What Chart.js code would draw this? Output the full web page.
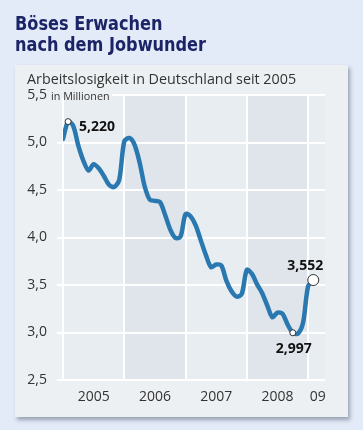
<!DOCTYPE html>
<html>
<head>
<meta charset="utf-8">
<script src="https://cdn.jsdelivr.net/npm/chart.js@4"></script>
<style>
  body { margin: 0; background: #e3ebf8; }
  canvas { display: block; }
</style>
</head>
<body>
<canvas id="jobChart" width="363" height="430"></canvas>
<script>
// Arbeitslose in Millionen, Jan 2005 bis Feb 2009
const arbeitslose = [
  5.037, 5.220, 5.176, 4.967, 4.807, 4.704, 4.772, 4.728, 4.647, 4.556, 4.531, 4.605,
  5.012, 5.048, 4.977, 4.790, 4.537, 4.398, 4.386, 4.372, 4.237, 4.084, 3.995, 4.008,
  4.247, 4.222, 4.124, 3.967, 3.812, 3.687, 3.715, 3.705, 3.543, 3.434, 3.378, 3.406,
  3.659, 3.617, 3.507, 3.414, 3.283, 3.160, 3.210, 3.196, 3.081, 2.997, 2.988, 3.102,
  3.489, 3.552
];
const jahresLabels = ['2005', '2006', '2007', '2008', '09'];
const jahresLabelPos = [6, 18, 30, 42, 49.9];
const jahresGrenzen = [0, 12, 24, 36, 48];
const yTicks = [2.5, 3.0, 3.5, 4.0, 4.5, 5.0, 5.5];
// markierte Punkte: Index im Array und Beschriftung
const markiert = [
  { i: 1, text: '5,220', r: 3 },
  { i: 45, text: '2,997', r: 3 },
  { i: 49, text: '3,552', r: 5.5 }
];

const FONT = '"Open Sans", "DejaVu Sans", sans-serif';
const TITLE_FONT = '"DejaVu Sans Condensed", "Liberation Sans Narrow", "Open Sans", sans-serif';
const fmt = v => v.toFixed(1).replace('.', ',');

const decor = {
  id: 'decor',
  beforeDraw(chart) {
    const { ctx, chartArea: a, scales } = chart;
    ctx.save();
    ctx.fillStyle = '#e3ebf8';
    ctx.fillRect(0, 0, chart.width, chart.height);

    // Panel mit Schatten
    ctx.shadowColor = 'rgba(60, 70, 90, 0.45)';
    ctx.shadowBlur = 4;
    ctx.shadowOffsetX = 2;
    ctx.shadowOffsetY = 3;
    ctx.fillStyle = '#ecf0f2';
    ctx.fillRect(15, 65, 333, 352);
    ctx.shadowColor = 'transparent';

    // Jahresspalten
    ctx.fillStyle = '#e8edf1';
    ctx.fillRect(a.left, a.top, a.right - a.left, a.bottom - a.top);
    ctx.fillStyle = '#dfe5ea';
    [[12, 24], [36, 48]].forEach(([s, e]) => {
      const x0 = scales.x.getPixelForValue(s);
      const x1 = scales.x.getPixelForValue(e);
      ctx.fillRect(x0, a.top, x1 - x0, a.bottom - a.top);
    });

    // Titel (etwas schmaler gezogen)
    ctx.save();
    ctx.translate(15, 0);
    ctx.scale(0.92, 1);
    ctx.fillStyle = '#1b2466';
    ctx.font = 'bold 19.5px ' + TITLE_FONT;
    ctx.textBaseline = 'alphabetic';
    ctx.fillText('Böses Erwachen', 0, 30);
    ctx.fillText('nach dem Jobwunder', 0, 51);
    ctx.restore();

    ctx.fillStyle = '#333';
    ctx.font = '14.3px ' + FONT;
    ctx.fillText('Arbeitslosigkeit in Deutschland seit 2005', 27, 84);
    ctx.restore();
  },
  afterDraw(chart) {
    const { ctx } = chart;
    const meta = chart.getDatasetMeta(0);
    ctx.save();
    // Einheit über der obersten Gitterlinie
    ctx.fillStyle = '#ecf0f2';
    ctx.fillRect(55, 92, 57, 6);
    ctx.fillStyle = '#333';
    ctx.font = '10.8px ' + FONT;
    ctx.textBaseline = 'alphabetic';
    ctx.fillText('in Millionen', 51, 100);

    ctx.font = 'bold 14px ' + FONT;
    markiert.forEach(m => {
      const p = meta.data[m.i];
      ctx.beginPath();
      ctx.arc(p.x, p.y, m.r, 0, Math.PI * 2);
      ctx.fillStyle = '#fff';
      ctx.fill();
      ctx.lineWidth = 1;
      ctx.strokeStyle = '#333';
      ctx.stroke();
      ctx.fillStyle = '#111';
      if (m.i === 1) {
        ctx.textAlign = 'left';
        ctx.fillText(m.text, p.x + 11, p.y + 9);
      } else if (m.i === 45) {
        ctx.textAlign = 'center';
        ctx.fillText(m.text, p.x + 1, p.y + 20);
      } else {
        ctx.textAlign = 'center';
        ctx.fillText(m.text, p.x - 8, p.y - 10);
      }
    });
    ctx.restore();
  }
};

new Chart(document.getElementById('jobChart'), {
  type: 'line',
  data: {
    datasets: [{
      data: arbeitslose.map((v, i) => ({ x: i, y: v })),
      borderColor: '#2a78b0',
      borderWidth: 4.5,
      tension: 0.3,
      pointRadius: 0,
      borderCapStyle: 'round',
      borderJoinStyle: 'round'
    }]
  },
  options: {
    responsive: false,
    animation: false,
    layout: { padding: { left: 0, top: 95, right: 38, bottom: 8 } },
    plugins: { legend: { display: false }, tooltip: { enabled: false } },
    scales: {
      x: {
        type: 'linear',
        min: 0,
        max: 51.3,
        afterBuildTicks: s => {
          s.ticks = jahresGrenzen.map(v => ({ value: v })).concat(jahresLabelPos.map(v => ({ value: v })));
        },
        afterFit: s => { s.height = 42; },
        border: { display: false },
        grid: {
          color: c => jahresGrenzen.includes(c.tick.value) ? '#ffffff' : 'transparent',
          lineWidth: 2,
          drawTicks: false
        },
        ticks: {
          autoSkip: false,
          maxRotation: 0,
          padding: 9,
          color: '#333',
          font: { family: FONT, size: 14 },
          callback: v => {
            const k = jahresLabelPos.indexOf(v);
            return k >= 0 ? jahresLabels[k] : '';
          }
        }
      },
      y: {
        min: 2.5,
        max: 5.5,
        afterBuildTicks: s => { s.ticks = yTicks.map(v => ({ value: v })); },
        afterFit: s => { s.width = 63; },
        border: { display: false },
        grid: { color: '#ffffff', lineWidth: 2, tickLength: 6 },
        ticks: {
          padding: 10,
          color: '#333',
          font: { family: FONT, size: 14 },
          callback: v => fmt(v)
        }
      }
    }
  },
  plugins: [decor]
});
</script>
</body>
</html>
